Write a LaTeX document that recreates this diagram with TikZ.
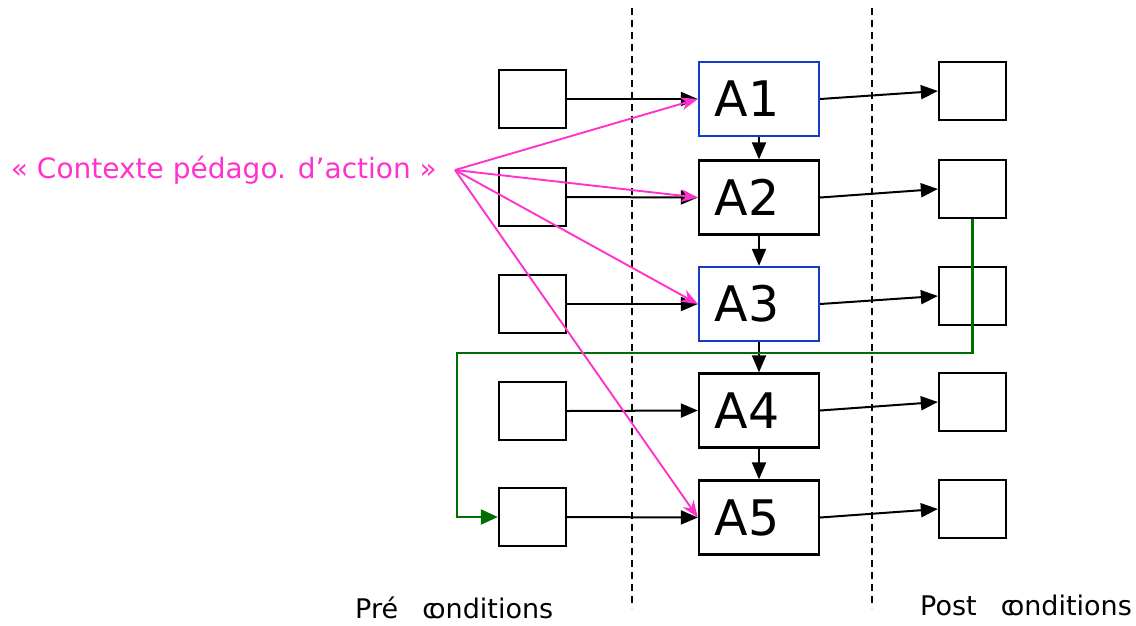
\documentclass[tikz,border=0pt]{standalone}
\usepackage{fontspec}
\setmainfont{DejaVu Sans}
\usetikzlibrary{arrows.meta}
\definecolor{pinkc}{RGB}{255,51,204}
\definecolor{greenc}{RGB}{0,110,0}
\definecolor{bluec}{RGB}{20,60,200}
\tikzset{
  box/.style={draw=black, line width=2.3pt, inner sep=0pt},
  small/.style={box, minimum width=67pt, minimum height=58pt},
  act/.style={box, minimum width=120pt, minimum height=74pt},
  blueact/.style={act, draw=bluec},
  arr/.style={line width=2pt, -{Triangle[length=17pt,width=14pt]}},
  parr/.style={pinkc, line width=1.9pt, -{Stealth[length=17pt,width=13pt]}},
  garr/.style={greenc, line width=2.1pt, -{Triangle[length=17pt,width=15pt]}},
  sep/.style={line width=2pt, dash pattern=on 7pt off 5pt},
  lab/.style={font=\fontsize{49}{56}\selectfont, anchor=west},
}
\begin{document}
\begin{tikzpicture}[x=1pt,y=-1pt]
\useasboundingbox (0,0) rectangle (1136,625);
% separators
\coordinate (s1a) at (632,8); \coordinate (s1b) at (632,608);
\coordinate (s2a) at (872,8); \coordinate (s2b) at (872,608);
\draw[sep] (s1a) -- (s1b);
\draw[sep] (s2a) -- (s2b);
% left boxes
\node[small] (p1) at (532.5,99) {};
\node[small] (p2) at (532.5,197) {};
\node[small] (p3) at (532.5,304) {};
\node[small] (p4) at (532.5,411) {};
\node[small] (p5) at (532.5,517) {};
% action boxes
\node[blueact] (a1) at (759,99) {};
\node[act] (a2) at (759,197.5) {};
\node[blueact] (a3) at (759,304) {};
\node[act] (a4) at (759,410.5) {};
\node[act] (a5) at (759,517.5) {};
\node[lab] (t1) at (711,99) {A1};
\node[lab] (t2) at (711,197.5) {A2};
\node[lab] (t3) at (711,304) {A3};
\node[lab] (t4) at (711,410.5) {A4};
\node[lab] (t5) at (711,517.5) {A5};
% right boxes
\node[small] (q1) at (972.5,91) {};
\node[small] (q2) at (972.5,189) {};
\node[small] (q3) at (972.5,296) {};
\node[small] (q4) at (972.5,402) {};
\node[small] (q5) at (972.5,509) {};
% left and right arrows
\foreach \i in {1,...,5}{
  \draw[arr] (p\i.east) -- (a\i.west);
  \draw[arr] (a\i.east) -- (q\i.west);
}
% down arrows
\draw[arr] (a1.south) -- (a2.north);
\draw[arr] (a2.south) -- (a3.north);
\draw[arr] (a3.south) -- (a4.north);
\draw[arr] (a4.south) -- (a5.north);
% green
\coordinate (g1) at (972.5,353);
\coordinate (g2) at (457,353);
\coordinate (g3) at (457,517);
\draw[garr] (q2.south) -- (g1) -- (g2) -- (g3) -- (p5.west);
% pink
\node[pinkc, font=\fontsize{28}{33}\selectfont, anchor=east, inner sep=0pt] (ctx) at (437,170) {« Contexte pédago. d’action »};
\coordinate (o) at (455,170);
\draw[parr] (o) -- (a1.west);
\draw[parr] (o) -- (a2.west);
\draw[parr] (o) -- (a3.west);
\draw[parr] (o) -- (a5.west);
% bottom labels
\node[font=\fontsize{27}{32}\selectfont, anchor=west, inner sep=0pt] (pre) at (355,608) {Pré\hspace{0.9em}c\kern-0.3em onditions};
\node[font=\fontsize{27}{32}\selectfont, anchor=west, inner sep=0pt] (post) at (920,605) {Post\hspace{0.9em}c\kern-0.3em onditions};
\end{tikzpicture}
\end{document}
